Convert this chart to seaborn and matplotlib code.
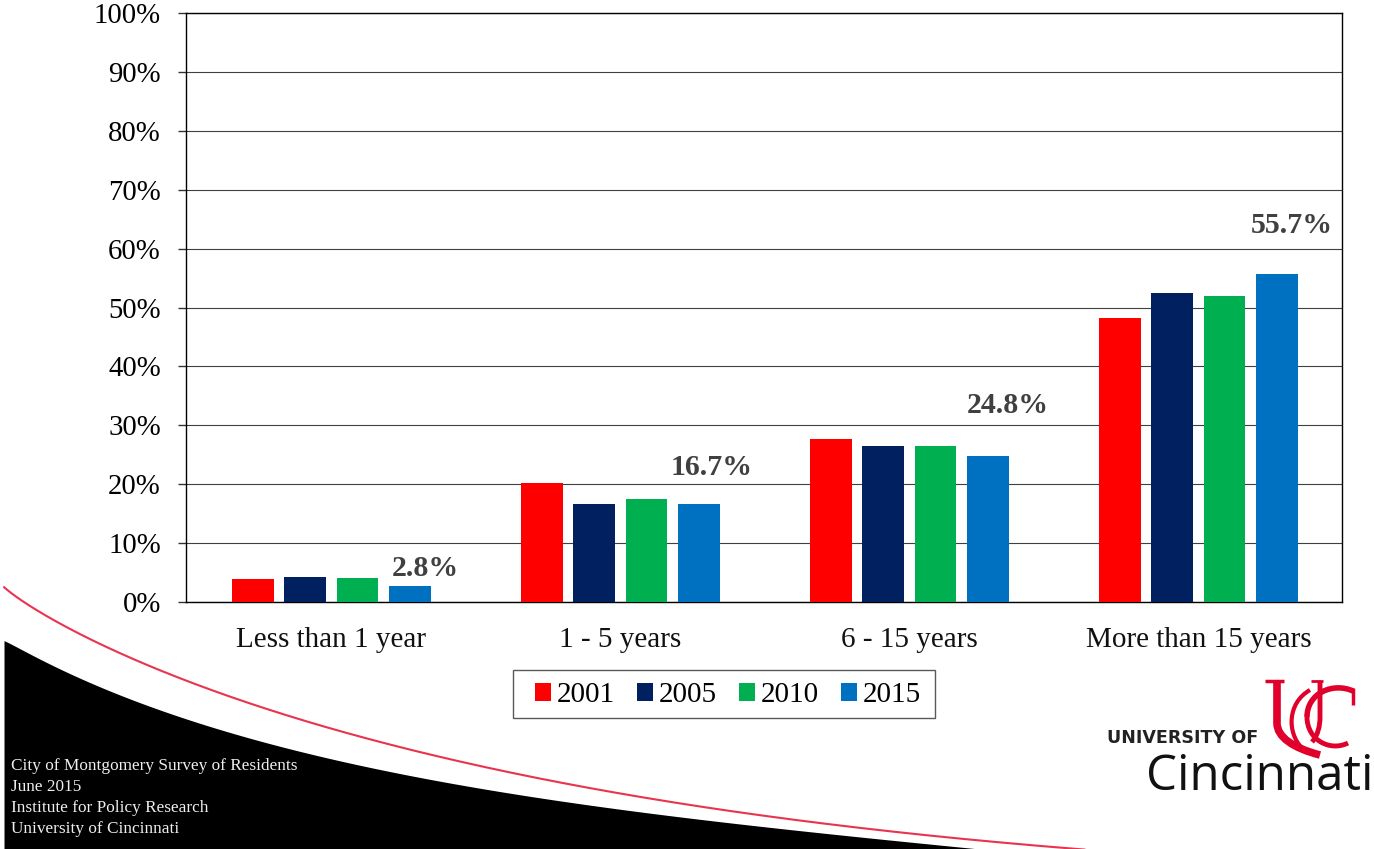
import matplotlib
matplotlib.use("Agg")
import matplotlib.pyplot as plt
from matplotlib.patches import PathPatch, Rectangle
from matplotlib.path import Path
from matplotlib.ticker import PercentFormatter
import numpy as np
from numpy.polynomial import Polynomial
import pandas as pd
import seaborn as sns

categories = ["Less than 1 year", "1 - 5 years", "6 - 15 years", "More than 15 years"]
years = ["2001", "2005", "2010", "2015"]
v2001 = [3.9, 20.2, 27.7, 48.2]
v2005 = [4.3, 16.7, 26.5, 52.4]
v2010 = [4.0, 17.5, 26.5, 51.9]
v2015 = [2.8, 16.7, 24.8, 55.7]
colors = ["#FF0000", "#002060", "#00B050", "#0070C0"]
footer = ["City of Montgomery Survey of Residents", "June 2015",
          "Institute for Policy Research", "University of Cincinnati"]

W, H = 1374, 849
df = pd.DataFrame({"Tenure": categories * 4,
                   "Year": np.repeat(years, 4),
                   "Percent": v2001 + v2005 + v2010 + v2015})

sns.set_theme(style="white")
plt.rcParams["font.family"] = ["Liberation Serif", "DejaVu Serif"]

fig = plt.figure(figsize=(W / 100, H / 100), dpi=100, facecolor="white")


def smooth_curve(xs, ys, deg=4):
    # low order fit in sqrt(x), the swoosh is steepest at its left end
    fit = Polynomial.fit(np.sqrt(xs), ys, deg)
    x = np.arange(xs[0], xs[-1] + 1)
    return x, fit(np.sqrt(x))


# background swoosh, drawn in pixel coordinates behind the chart
bg = fig.add_axes([0, 0, 1, 1], zorder=0)
bg.set_xlim(0, W)
bg.set_ylim(H, 0)
bg.axis("off")
black_x = [4, 67, 133, 200, 267, 333, 400, 500, 650, 800, 950, 985]
black_y = [641, 670, 702, 725, 743, 758, 772, 792, 813, 832, 846, 849]
red_x = [4, 67, 133, 200, 267, 333, 400, 500, 650, 800, 950, 1085]
red_y = [587, 628, 658, 685, 710, 730, 747, 770, 798, 820, 839, 849]
bx, by = smooth_curve(black_x, black_y)
rx, ry = smooth_curve(red_x, red_y)
bg.fill_between(bx, by, H, color="black", lw=0)
bg.plot(rx, ry, color="#E8344F", lw=1.5)
for i, line in enumerate(footer):
    bg.text(11, 766 + i * 21, line, color="#EFEFEF", fontsize=12.4, va="center")
bg.add_patch(Rectangle((513, 669.5), 422, 48, fc="white", ec="#595959", lw=1))

# chart
ax = fig.add_axes([186 / W, 1 - 602 / H, (1342 - 186) / W, (602 - 13) / H], zorder=1)
ax.patch.set_alpha(0)
sns.barplot(data=df, x="Tenure", y="Percent", hue="Year", palette=colors,
            width=0.724, gap=0.206, saturation=1, errorbar=None, linewidth=0,
            ax=ax, zorder=3)
ax.set_xlim(-0.503, 3.497)
ax.set_ylim(0, 100)
ax.set_yticks(range(0, 101, 10))
ax.yaxis.set_major_formatter(PercentFormatter(decimals=0))
ax.set_xlabel("")
ax.set_ylabel("")
ax.grid(axis="y", color="#404040", lw=0.8, zorder=0)
ax.set_axisbelow(True)
for s in ax.spines.values():
    s.set_visible(True)
    s.set_color("black")
    s.set_linewidth(1)
ax.tick_params(axis="y", left=True, length=5.8, width=1, color="#333333",
               labelsize=20.7, pad=12.3, labelcolor="black")
ax.tick_params(axis="x", bottom=False, labelsize=21, pad=12.2, labelcolor="#111111")

# 2015 value labels, pushed up and right of the bars
label_dx = [11, 9, 14, 11]
label_dy = [12, 26, 36, 35]
for bar, val, dx, dy in zip(ax.containers[3], v2015, label_dx, label_dy):
    ax.annotate(f"{val:.1f}%", (bar.get_x() + bar.get_width() / 2, val),
                xytext=(dx, dy), textcoords="offset points", ha="center", va="center",
                fontsize=21.5, fontweight="bold", color="#404040", zorder=5)

leg = ax.legend(loc="center", bbox_to_anchor=(728 / W, 1 - 695.5 / H),
                bbox_transform=fig.transFigure, ncol=4, fontsize=21, frameon=False,
                handlelength=0.54, handleheight=0.54, handletextpad=0.2,
                columnspacing=0.77, borderpad=0, borderaxespad=0)
for t in leg.get_texts():
    t.set_color("black")

# university logo
fg = fig.add_axes([0, 0, 1, 1], zorder=2)
fg.set_xlim(0, W)
fg.set_ylim(H, 0)
fg.axis("off")
fg.text(1107, 738, "UNIVERSITY OF", family="DejaVu Sans", fontweight="bold", fontsize=12.6,
        color="#222222", va="center", ha="left")
fg.text(1146, 777, "Cincinnati", family="Open Sans", fontsize=35.5,
        color="#111111", va="center", ha="left")
red = "#E0002B"
M, C, L = Path.MOVETO, Path.CURVE4, Path.LINETO
strokes = [
    ([(1277, 681), (1277, 723), (1277, 737), (1293, 748), (1320, 755)], [M, L, C, C, C], 5.5),
    ([(1310, 690), (1287, 703), (1287, 733), (1302, 748)], [M, C, C, C], 3),
    ([(1320, 681), (1320, 717), (1320, 726), (1318, 735), (1312, 742)], [M, L, C, C, C], 3.5),
    ([(1353, 691), (1333, 682), (1307, 693), (1307, 717)], [M, C, C, C], 4),
    ([(1307, 717), (1307, 740), (1330, 752), (1348, 743)], [M, C, C, C], 3.5),
]
for verts, codes, lw in strokes:
    fg.add_patch(PathPatch(Path(verts, codes), fc="none", ec=red, lw=lw, capstyle="butt"))
fg.plot([1265, 1284], [680.5, 680.5], color=red, lw=2.5, solid_capstyle="butt")
fg.plot([1311, 1323], [680.5, 680.5], color=red, lw=2, solid_capstyle="butt")
fg.plot([1353, 1353], [688, 705], color=red, lw=2.5, solid_capstyle="butt")

fig.savefig("out.png", dpi=100)
